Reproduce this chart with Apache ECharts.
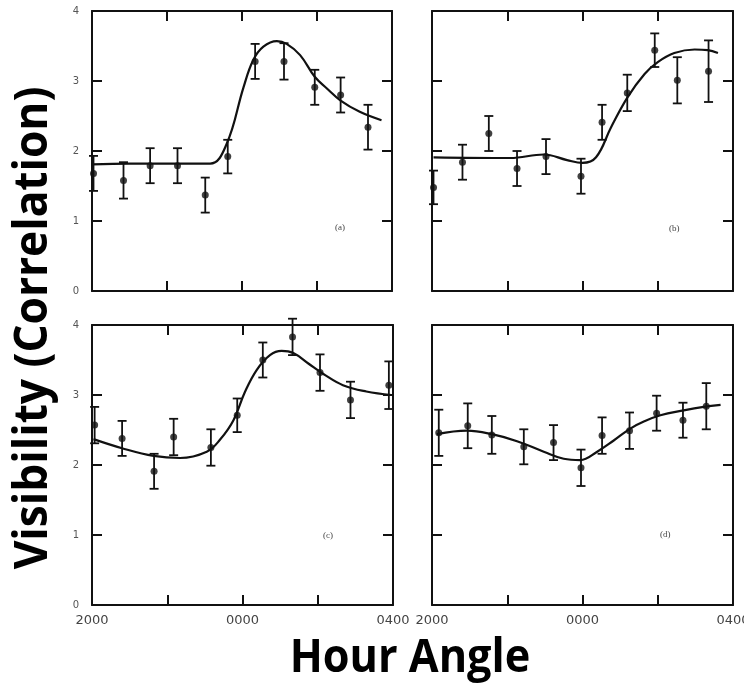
<!DOCTYPE html>
<html><head><meta charset="utf-8">
<script src="https://cdn.jsdelivr.net/npm/echarts@6/dist/echarts.min.js"></script>
<style>html,body{margin:0;padding:0;background:#fff}#c{width:744px;height:683px}</style>
</head><body><div id="c"></div>
<script>
// ---- data (hour angle in hours relative to 0000) ----
const xTickValues = [-4, -2, 0, 2, 4];
const xTickLabels = ['2000', '', '0000', '', '0400'];
const yTickLabels = ['0', '1', '2', '3', '4'];
const panelLabels = ['(a)', '(b)', '(c)', '(d)'];

const aX = [-3.96, -3.16, -2.45, -1.72, -0.98, -0.38, 0.35, 1.12, 1.94, 2.63, 3.36];
const aY = [1.68, 1.58, 1.79, 1.79, 1.37, 1.92, 3.28, 3.28, 2.91, 2.80, 2.34];
const aErr = [0.25, 0.26, 0.25, 0.25, 0.25, 0.24, 0.25, 0.26, 0.25, 0.25, 0.32];
const aCurveX = [-4, -3, -2, -0.85, -0.41, 0.04, 0.30, 0.57, 0.93, 1.19, 1.55, 1.94, 2.25, 2.63, 3.14, 3.72];
const aCurveY = [1.81, 1.82, 1.82, 1.82, 2.10, 2.91, 3.30, 3.49, 3.57, 3.53, 3.37, 3.06, 2.90, 2.72, 2.56, 2.44];

const bX = [-3.96, -3.19, -2.49, -1.74, -0.97, -0.04, 0.52, 1.19, 1.92, 2.52, 3.35];
const bY = [1.48, 1.84, 2.25, 1.75, 1.92, 1.64, 2.41, 2.83, 3.44, 3.01, 3.14];
const bErr = [0.24, 0.25, 0.25, 0.25, 0.25, 0.25, 0.25, 0.26, 0.24, 0.33, 0.44];
const bCurveX = [-3.96, -1.92, -1.03, -0.41, 0, 0.36, 0.76, 1.20, 1.65, 2.00, 2.44, 2.98, 3.33, 3.60];
const bCurveY = [1.91, 1.90, 1.95, 1.87, 1.83, 1.91, 2.34, 2.77, 3.10, 3.27, 3.40, 3.45, 3.44, 3.40];

const cX = [-3.93, -3.20, -2.35, -1.83, -0.84, -0.14, 0.54, 1.33, 2.06, 2.87, 3.89];
const cY = [2.57, 2.38, 1.91, 2.40, 2.25, 2.71, 3.50, 3.83, 3.32, 2.93, 3.14];
const cErr = [0.26, 0.25, 0.25, 0.26, 0.26, 0.24, 0.25, 0.26, 0.26, 0.26, 0.34];
const cCurveX = [-3.96, -3.20, -2.36, -1.66, -0.95, -0.60, -0.24, 0.07, 0.38, 0.73, 1.04, 1.35, 1.75, 2.15, 2.67, 3.29, 3.96];
const cCurveY = [2.37, 2.24, 2.13, 2.10, 2.19, 2.36, 2.64, 3.05, 3.36, 3.57, 3.63, 3.60, 3.45, 3.30, 3.14, 3.05, 3.00];

const dX = [-3.82, -3.05, -2.41, -1.56, -0.77, -0.04, 0.52, 1.25, 1.97, 2.67, 3.29];
const dY = [2.46, 2.56, 2.43, 2.26, 2.32, 1.96, 2.42, 2.49, 2.74, 2.64, 2.84];
const dErr = [0.33, 0.32, 0.27, 0.25, 0.25, 0.26, 0.26, 0.26, 0.25, 0.25, 0.33];
const dCurveX = [-3.87, -3.07, -2.41, -1.74, -1.03, -0.50, -0.06, 0.39, 0.83, 1.27, 1.63, 2.07, 2.69, 3.22, 3.67];
const dCurveY = [2.44, 2.49, 2.44, 2.34, 2.19, 2.09, 2.07, 2.19, 2.35, 2.52, 2.62, 2.71, 2.78, 2.83, 2.86];

const xAxisTitle = 'Hour Angle';
const yAxisTitle = 'Visibility (Correlation)';

// ---- build ----
const panels = [
  {x: aX, y: aY, e: aErr, cx: aCurveX, cy: aCurveY},
  {x: bX, y: bY, e: bErr, cx: bCurveX, cy: bCurveY},
  {x: cX, y: cY, e: cErr, cx: cCurveX, cy: cCurveY},
  {x: dX, y: dY, e: dErr, cx: dCurveX, cy: dCurveY}
];
const gridBoxes = [
  [92, 11, 300, 280],
  [432, 11, 301, 280],
  [92, 325, 301, 280],
  [432, 325, 301, 280]
];
const grids = gridBoxes.map(g => ({left: g[0], top: g[1], width: g[2], height: g[3],
  containLabel: false, outerBoundsMode: 'none'}));
const labelPos = [[343, 229], [677, 230], [331, 537], [668, 536]];

const xAxes = [], yAxes = [], series = [];
const lineStyle = {color: '#111', width: 2};
panels.forEach((p, i) => {
  const showX = i >= 2, showY = i % 2 === 0;
  ['bottom', 'top'].forEach(pos => {
    xAxes.push({
      type: 'value', gridIndex: i, position: pos, min: -4, max: 4, interval: 2,
      axisLine: {show: true, onZero: false, lineStyle},
      axisTick: {show: true, inside: true, length: 10, lineStyle},
      splitLine: {show: false},
      axisLabel: {
        show: pos === 'bottom' && showX, margin: 9, color: '#444', fontSize: 13,
        fontFamily: 'DejaVu Sans', hideOverlap: false,
        formatter: v => { const k = xTickValues.indexOf(v); return k >= 0 ? xTickLabels[k] : ''; }
      }
    });
  });
  ['left', 'right'].forEach(pos => {
    yAxes.push({
      type: 'value', gridIndex: i, position: pos, min: 0, max: 4, interval: 1,
      axisLine: {show: true, onZero: false, lineStyle},
      axisTick: {show: true, inside: true, length: 10, lineStyle},
      splitLine: {show: false},
      axisLabel: {
        show: pos === 'left' && showY, margin: 13, color: '#555', fontSize: 10,
        fontFamily: 'DejaVu Sans',
        formatter: v => yTickLabels[v] || ''
      }
    });
  });
  const xi = i * 2, yi = i * 2;
  series.push({
    type: 'line', xAxisIndex: xi, yAxisIndex: yi, smooth: 0.4, symbol: 'none',
    lineStyle: {color: '#111', width: 2.2},
    data: p.cx.map((v, k) => [v, p.cy[k]]), z: 3
  });
  series.push({
    type: 'custom', xAxisIndex: xi, yAxisIndex: yi,
    data: p.x.map((v, k) => [v, p.y[k] - p.e[k], p.y[k] + p.e[k]]),
    renderItem: (params, api) => {
      const lo = api.coord([api.value(0), api.value(1)]);
      const hi = api.coord([api.value(0), api.value(2)]);
      const w = 4.5;
      const st = {stroke: '#111', lineWidth: 1.8};
      return {type: 'group', children: [
        {type: 'line', shape: {x1: lo[0], y1: lo[1], x2: hi[0], y2: hi[1]}, style: st},
        {type: 'line', shape: {x1: lo[0] - w, y1: lo[1], x2: lo[0] + w, y2: lo[1]}, style: st},
        {type: 'line', shape: {x1: hi[0] - w, y1: hi[1], x2: hi[0] + w, y2: hi[1]}, style: st}
      ]};
    }, z: 4
  });
  series.push({
    type: 'scatter', xAxisIndex: xi, yAxisIndex: yi, symbol: 'circle', symbolSize: 7,
    itemStyle: {color: '#111'}, data: p.x.map((v, k) => [v, p.y[k]]), z: 5
  });
});

const graphics = labelPos.map((pp, i) => ({
  type: 'text', left: pp[0] - 8, top: pp[1] - 6,
  style: {text: panelLabels[i], fontSize: 9, fill: '#444', fontFamily: 'Liberation Serif'}
}));
graphics.push({
  type: 'text', x: 410, y: 659, scaleX: 0.94,
  style: {text: xAxisTitle, fontSize: 46, fontWeight: 'bold', fill: '#000',
    fontFamily: 'Open Sans', align: 'center', verticalAlign: 'middle'}
});
graphics.push({
  type: 'text', x: 34, y: 328, rotation: Math.PI / 2, scaleX: 0.94,
  style: {text: yAxisTitle, fontSize: 47, fontWeight: 'bold', fill: '#000',
    fontFamily: 'Open Sans', align: 'center', verticalAlign: 'middle'}
});

const chart = echarts.init(document.getElementById('c'));
chart.setOption({
  backgroundColor: '#fff', animation: false,
  grid: grids, xAxis: xAxes, yAxis: yAxes, series, graphic: graphics
});
</script></body></html>
